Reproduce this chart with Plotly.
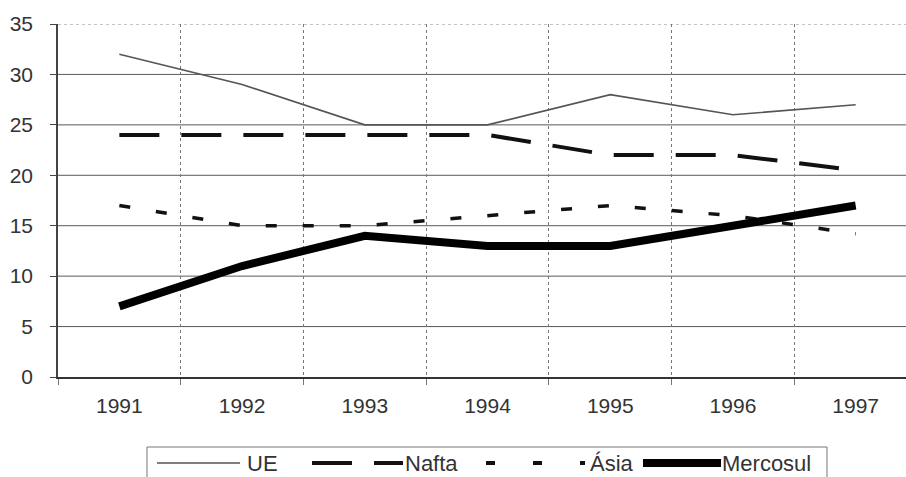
import plotly.graph_objects as go

# Participação por bloco econômico, 1991-1997
anos = ["1991", "1992", "1993", "1994", "1995", "1996", "1997"]
ue = [32, 29, 25, 25, 28, 26, 27]
nafta = [24, 24, 24, 24, 22, 22, 20.5]
asia = [17, 15, 15, 16, 17, 16, 14.2]
mercosul = [7, 11, 14, 13, 13, 15, 17]
y_ticks = [0, 5, 10, 15, 20, 25, 30, 35]

FONT = "Liberation Sans, Arial, sans-serif"
TXT = "#333333"
GRID = "#5a5a5a"

xs = list(range(len(anos)))

series = [
    ("UE", ue, dict(color="#555555", width=1.6, dash="solid")),
    ("Nafta", nafta, dict(color="#111111", width=4, dash="40px,22px")),
    ("Ásia", asia, dict(color="#111111", width=3.5, dash="11px,26px")),
    ("Mercosul", mercosul, dict(color="#000000", width=8, dash="solid")),
]

fig = go.Figure()
for name, vals, line in series:
    fig.add_trace(go.Scatter(x=xs, y=vals, mode="lines", name=name,
                             line=line, showlegend=False, hoverinfo="skip"))

# plot-area geometry in pixels (used for the hand-drawn legend)
W, H = 906, 477
L, T, B = 58, 24, 100
PW = W - L
PH = H - T - B


def px(x):
    return (x - L) / PW


def py(y):
    return (H - B - y) / PH


shapes = []
# horizontal grid lines
for v in y_ticks[1:-1]:
    shapes.append(dict(type="line", xref="paper", yref="y", x0=0, x1=1,
                       y0=v, y1=v, line=dict(color=GRID, width=1),
                       layer="below"))
# dotted top border
shapes.append(dict(type="line", xref="paper", yref="y", x0=0, x1=1,
                   y0=y_ticks[-1], y1=y_ticks[-1],
                   line=dict(color="#888888", width=1, dash="dot"),
                   layer="below"))

# legend box
shapes.append(dict(type="rect", xref="paper", yref="paper",
                   x0=px(147), x1=px(827), y0=py(447), y1=py(480),
                   line=dict(color="#777777", width=1), layer="above"))

ly = py(463)
legend_items = [
    # name, sample start, sample end, text x, line style
    ("UE", 157, 240, 245, series[0][2]),
    ("Nafta", 312, 403, 403, series[1][2]),
    ("Ásia", 486, 585, 588, dict(color="#111111", width=4, dash="9px,38px")),
    ("Mercosul", 643, 721, 720, series[3][2]),
]
annotations = []
for name, x0, x1, tx, line in legend_items:
    shapes.append(dict(type="line", xref="paper", yref="paper",
                       x0=px(x0), x1=px(x1), y0=ly, y1=ly, line=line,
                       layer="above"))
    annotations.append(dict(text=name, xref="paper", yref="paper",
                            x=px(tx), y=ly, xanchor="left", yanchor="middle",
                            showarrow=False,
                            font=dict(family=FONT, size=22, color=TXT)))

fig.update_layout(
    width=W, height=H,
    margin=dict(l=L, r=0, t=T, b=B, pad=0),
    paper_bgcolor="white", plot_bgcolor="white",
    shapes=shapes, annotations=annotations,
    showlegend=False,
    xaxis=dict(
        range=[-0.5, 6.41],
        tickvals=xs, ticktext=anos, ticks="",
        showgrid=False, zeroline=False,
        showline=True, linecolor="#333333", linewidth=1.5,
        tickfont=dict(family=FONT, size=21, color=TXT),
        ticklabelstandoff=9,
        minor=dict(tick0=0.5, dtick=1, showgrid=True, gridcolor="#777777",
                   griddash="dot", gridwidth=1, ticks="outside",
                   ticklen=6, tickcolor="#777777"),
    ),
    yaxis=dict(
        range=[0, 35],
        tickvals=y_ticks,
        showgrid=False, zeroline=False,
        showline=True, linecolor="#444444", linewidth=1.5,
        ticks="outside", ticklen=6, tickcolor="#444444",
        tickfont=dict(family=FONT, size=21, color=TXT),
        ticklabelstandoff=13,
    ),
)

fig.write_html("out.html")
